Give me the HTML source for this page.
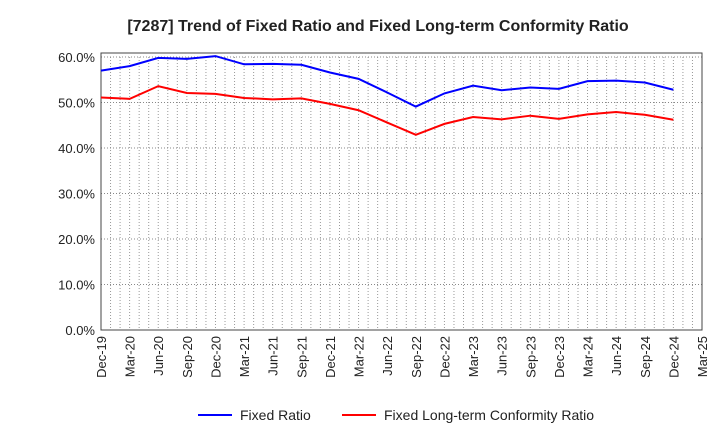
<!DOCTYPE html>
<html><head><meta charset="utf-8"><style>
body{margin:0;background:#fff;font-family:"Liberation Sans",Arial,sans-serif}
</style></head><body>
<svg id="c" width="720" height="440" xmlns="http://www.w3.org/2000/svg">
<text x="378" y="31" text-anchor="middle" font-size="16" font-weight="bold" fill="#222">[7287]  Trend of Fixed Ratio and Fixed Long-term Conformity Ratio</text>
<g id="grid"></g><g id="axes"></g><g id="series"></g>
<g>
<line x1="198" y1="415" x2="232" y2="415" stroke="#0000ff" stroke-width="2"/>
<text x="240" y="420" font-size="14" fill="#222">Fixed Ratio</text>
<line x1="342" y1="415" x2="376" y2="415" stroke="#ff0000" stroke-width="2"/>
<text x="384" y="420" font-size="14" fill="#222">Fixed Long-term Conformity Ratio</text>
</g>
</svg>
<script>
const xLabels=["Dec-19","Mar-20","Jun-20","Sep-20","Dec-20","Mar-21","Jun-21","Sep-21","Dec-21","Mar-22","Jun-22","Sep-22","Dec-22","Mar-23","Jun-23","Sep-23","Dec-23","Mar-24","Jun-24","Sep-24","Dec-24","Mar-25"];
const yTicks=[0,10,20,30,40,50,60];
const fixedRatio=[57.0,58.0,59.8,59.6,60.2,58.4,58.5,58.3,56.6,55.2,52.2,49.1,52.0,53.7,52.7,53.3,53.0,54.7,54.8,54.4,52.8];
const fixedLT=[51.1,50.8,53.6,52.1,51.9,51.0,50.7,50.9,49.7,48.3,45.6,42.9,45.3,46.8,46.3,47.1,46.4,47.4,47.9,47.3,46.2];
const L=101,R=702,T=57,B=330,NS="http://www.w3.org/2000/svg";
const step=(R-L)/(xLabels.length-1);
const X=i=>L+i*step, Y=v=>B-(v/60)*(B-T);
function mk(t,a,p){const e=document.createElementNS(NS,t);for(const k in a)e.setAttribute(k,a[k]);p.appendChild(e);return e;}
const g=document.getElementById('grid'),ax=document.getElementById('axes'),s=document.getElementById('series');
for(let m=1;m<(xLabels.length-1)*3;m++){const x=L+m*step/3;const l=mk('line',{x1:x,y1:T,x2:x,y2:B,stroke:'#999','stroke-dasharray':'1,2','stroke-width':1},g);

}
yTicks.forEach(v=>{const y=Y(v);if(v>0){const l=mk('line',{x1:L,y1:y,x2:R,y2:y,stroke:'#888','stroke-dasharray':'1,2'},g);

}
const t=mk('text',{x:L-6,y:y+5,'text-anchor':'end','font-size':13,fill:'#222'},ax);t.textContent=v.toFixed(1)+'%';

});
xLabels.forEach((lab,i)=>{const x=X(i);const t=mk('text',{transform:`translate(${x+5},${B+6}) rotate(-90)`,'text-anchor':'end','font-size':13,fill:'#222'},ax);t.textContent=lab;

});
const fr=mk('rect',{x:L,y:T-4,width:R-L,height:B-T+4,fill:'none',stroke:'#444'},ax);


function line(d,c,n){const p=mk('polyline',{points:d.map((v,i)=>X(i)+','+Y(v)).join(' '),fill:'none',stroke:c,'stroke-width':2},s);

}
line(fixedRatio,'#0000ff','fixed-ratio-line');
line(fixedLT,'#ff0000','fixed-long-term-line');
</script>
</body></html>
